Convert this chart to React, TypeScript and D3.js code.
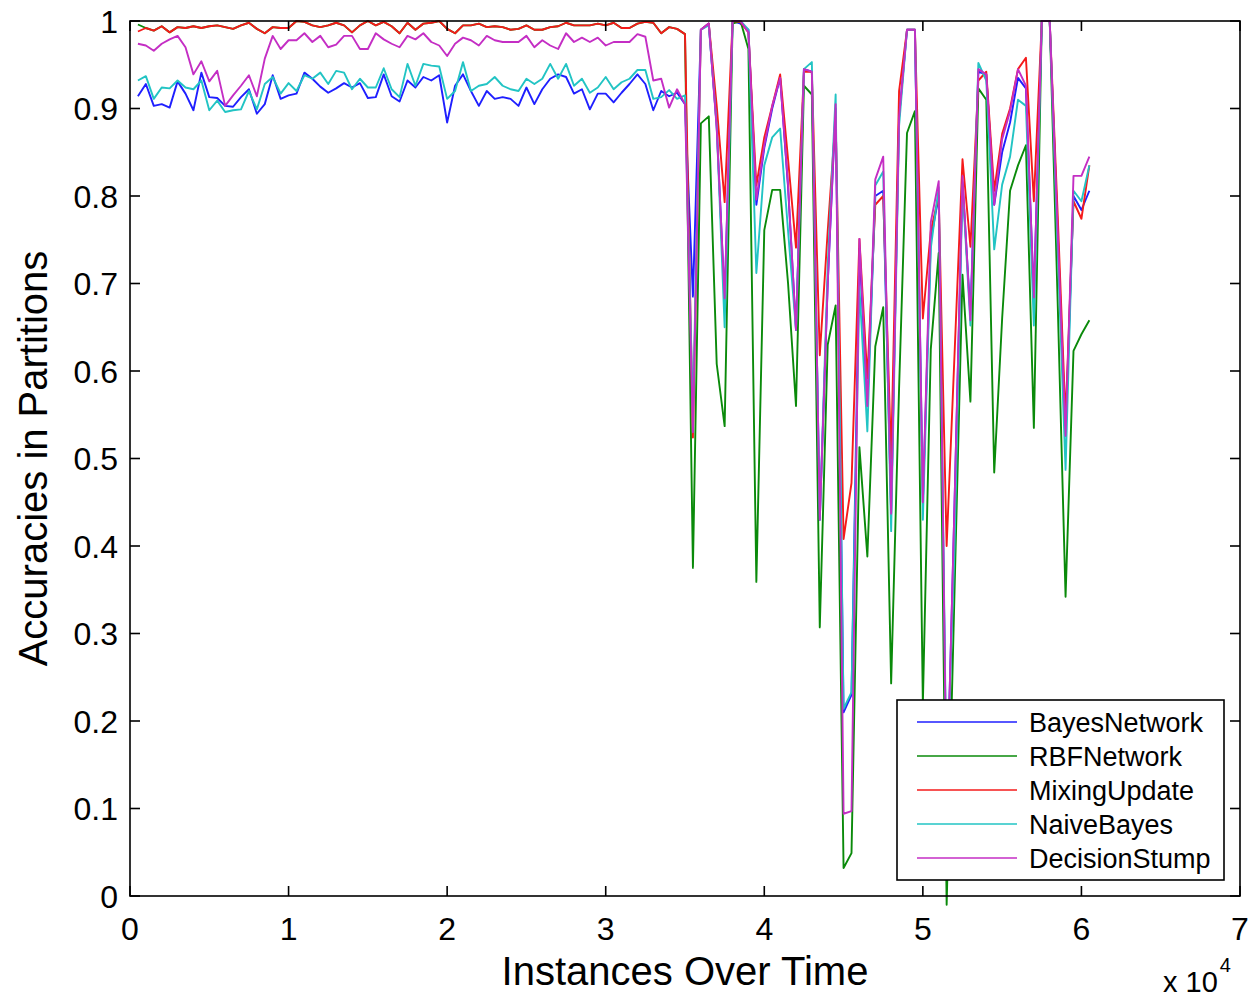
import React, { useEffect, useRef } from "react";
import * as d3 from "d3";

// instances per partition, one point per partition
const partitionSize = 500;

const bayesNetwork = [
  0.914, 0.928, 0.903, 0.905, 0.901, 0.931, 0.917, 0.898, 0.941, 0.913, 0.912, 0.903, 0.902, 0.913, 0.922, 0.894, 0.905, 0.938,
  0.911, 0.915, 0.917, 0.941, 0.934, 0.925, 0.918, 0.923, 0.929, 0.924, 0.929, 0.912, 0.913, 0.939, 0.914, 0.908, 0.932, 0.924,
  0.936, 0.932, 0.938, 0.884, 0.926, 0.939, 0.92, 0.903, 0.92, 0.911, 0.913, 0.911, 0.903, 0.924, 0.905, 0.922, 0.934,
  0.939, 0.936, 0.917, 0.922, 0.899, 0.917, 0.917, 0.907, 0.918, 0.928, 0.939, 0.928, 0.898, 0.92, 0.914, 0.918, 0.905,
  0.685, 0.99, 0.997, 0.88, 0.68, 1.0, 0.997, 0.99, 0.79, 0.855, 0.9, 0.935, 0.81, 0.647, 0.945, 0.942, 0.43,
  0.7, 0.9, 0.21, 0.23, 0.74, 0.56, 0.8, 0.806, 0.437, 0.89, 0.99, 0.99, 0.45, 0.75, 0.8, 0.1,
  0.45, 0.816, 0.665, 0.942, 0.939, 0.79, 0.85, 0.884, 0.935, 0.923, 0.684, 1.0, 1.0, 0.76, 0.526, 0.8, 0.784, 0.806,
];

const rbfNetwork = [
  0.996, 0.992, 0.989, 0.994, 0.987, 0.993, 0.992, 0.994, 0.992, 0.994, 0.995, 0.993, 0.991, 0.995, 0.998, 0.991, 0.986, 0.993,
  0.992, 0.992, 1.0, 0.999, 0.995, 0.993, 0.995, 0.998, 0.995, 0.987, 0.995, 1.0, 0.995, 0.999, 0.994, 0.986, 0.998, 0.99,
  0.997, 0.998, 1.0, 0.991, 0.986, 0.995, 0.995, 0.997, 0.993, 0.994, 0.993, 0.99, 0.991, 0.995, 0.99, 0.99, 0.993,
  0.994, 0.998, 0.995, 0.995, 0.995, 0.997, 0.995, 0.998, 0.992, 0.992, 0.997, 0.999, 0.998, 0.986, 0.993, 0.991, 0.985,
  0.375, 0.883, 0.891, 0.608, 0.537, 0.997, 1.0, 0.968, 0.359, 0.761, 0.807, 0.807, 0.7, 0.56, 0.926, 0.916, 0.307,
  0.63, 0.675, 0.032, 0.049, 0.513, 0.388, 0.628, 0.673, 0.243, 0.58, 0.872, 0.897, 0.22, 0.625, 0.735, -0.01,
  0.35, 0.71, 0.565, 0.923, 0.91, 0.484, 0.66, 0.806, 0.835, 0.858, 0.535, 1.0, 1.0, 0.68, 0.342, 0.623, 0.642, 0.658,
];

const mixingUpdate = [
  0.988, 0.992, 0.989, 0.994, 0.987, 0.993, 0.992, 0.994, 0.992, 0.994, 0.995, 0.993, 0.991, 0.995, 0.998, 0.991, 0.986, 0.993,
  0.992, 0.992, 1.0, 0.999, 0.995, 0.993, 0.995, 0.998, 0.995, 0.987, 0.995, 1.0, 0.995, 0.999, 0.994, 0.986, 0.998, 0.99,
  0.997, 0.998, 1.0, 0.991, 0.986, 0.995, 0.995, 0.997, 0.993, 0.994, 0.993, 0.99, 0.991, 0.995, 0.99, 0.99, 0.993,
  0.994, 0.998, 0.995, 0.995, 0.995, 0.997, 0.995, 0.998, 0.992, 0.992, 0.997, 0.999, 0.998, 0.986, 0.993, 0.991, 0.985,
  0.524, 0.99, 0.997, 0.903, 0.793, 1.0, 0.999, 0.987, 0.812, 0.867, 0.903, 0.939, 0.842, 0.741, 0.942, 0.942, 0.618,
  0.76, 0.89, 0.408, 0.472, 0.751, 0.592, 0.79, 0.8, 0.5, 0.92, 0.99, 0.99, 0.66, 0.76, 0.8, 0.4,
  0.62, 0.842, 0.742, 0.932, 0.942, 0.806, 0.871, 0.9, 0.945, 0.958, 0.794, 1.0, 1.0, 0.78, 0.545, 0.794, 0.774, 0.835,
];

const naiveBayes = [
  0.932, 0.937, 0.911, 0.924, 0.923, 0.932, 0.924, 0.922, 0.932, 0.898, 0.909, 0.896, 0.898, 0.899, 0.92, 0.899, 0.928, 0.936,
  0.917, 0.929, 0.92, 0.938, 0.934, 0.941, 0.928, 0.943, 0.941, 0.922, 0.934, 0.924, 0.924, 0.946, 0.922, 0.913, 0.951, 0.926,
  0.951, 0.949, 0.948, 0.911, 0.92, 0.953, 0.92, 0.926, 0.928, 0.936, 0.926, 0.922, 0.92, 0.934, 0.928, 0.934, 0.951,
  0.934, 0.951, 0.926, 0.934, 0.918, 0.924, 0.936, 0.922, 0.93, 0.934, 0.944, 0.944, 0.911, 0.913, 0.921, 0.911, 0.915,
  0.55, 0.99, 0.995, 0.88, 0.65, 1.0, 1.0, 0.99, 0.712, 0.835, 0.867, 0.877, 0.76, 0.647, 0.945, 0.953, 0.43,
  0.72, 0.916, 0.214, 0.233, 0.696, 0.531, 0.812, 0.828, 0.417, 0.88, 0.99, 0.99, 0.43, 0.74, 0.81, 0.12,
  0.4, 0.813, 0.652, 0.952, 0.932, 0.739, 0.813, 0.845, 0.91, 0.903, 0.652, 1.0, 1.0, 0.74, 0.487, 0.806, 0.794, 0.835,
];

const decisionStump = [
  0.974, 0.972, 0.966, 0.974, 0.979, 0.983, 0.97, 0.939, 0.954, 0.931, 0.943, 0.903, 0.915, 0.926, 0.938, 0.914, 0.957, 0.983,
  0.968, 0.978, 0.978, 0.986, 0.976, 0.983, 0.97, 0.973, 0.983, 0.983, 0.968, 0.968, 0.986, 0.979, 0.974, 0.97, 0.983, 0.979,
  0.986, 0.976, 0.972, 0.96, 0.974, 0.981, 0.978, 0.972, 0.983, 0.978, 0.976, 0.976, 0.976, 0.983, 0.97, 0.978, 0.972,
  0.968, 0.986, 0.976, 0.981, 0.976, 0.981, 0.972, 0.976, 0.976, 0.976, 0.985, 0.982, 0.932, 0.934, 0.901, 0.922, 0.905,
  0.53, 0.99, 0.997, 0.877, 0.683, 1.0, 1.0, 0.987, 0.796, 0.858, 0.903, 0.935, 0.812, 0.647, 0.945, 0.942, 0.43,
  0.7, 0.905, 0.094, 0.097, 0.751, 0.56, 0.819, 0.845, 0.437, 0.89, 0.99, 0.99, 0.45, 0.77, 0.817, 0.1,
  0.45, 0.823, 0.658, 0.945, 0.939, 0.79, 0.865, 0.897, 0.945, 0.926, 0.684, 1.0, 1.0, 0.76, 0.526, 0.823, 0.823, 0.845,
];

const seriesNames = ["BayesNetwork", "RBFNetwork", "MixingUpdate", "NaiveBayes", "DecisionStump"];
const seriesValues = [bayesNetwork, rbfNetwork, mixingUpdate, naiveBayes, decisionStump];
const seriesColors = ["#1f1fff", "#0a8a0a", "#f51a1a", "#22c4c4", "#c42ec4"];

const xTicks = [0, 10000, 20000, 30000, 40000, 50000, 60000, 70000];
const yTicks = [0, 0.1, 0.2, 0.3, 0.4, 0.5, 0.6, 0.7, 0.8, 0.9, 1];

const W = 1257;
const H = 1000;
const FONT = "'Liberation Sans', Arial, Helvetica, sans-serif";

export default function App() {
  const ref = useRef<SVGSVGElement>(null);

  useEffect(() => {
    const svg = d3.select(ref.current);
    svg.selectAll("*").remove();

    const left = 130, right = 1240, top = 21, bottom = 896;
    const x = d3.scaleLinear().domain([0, 70000]).range([left, right]);
    const y = d3.scaleLinear().domain([0, 1]).range([bottom, top]);
    const tickLen = 10;

    svg.append("rect").attr("width", W).attr("height", H).attr("fill", "#fff");

    // series lines (drawn in legend order, last on top)
    const line = d3
      .line<number>()
      .x((d, i) => x((i + 1) * partitionSize))
      .y((d) => y(d));

    const linesG = svg.append("g");
    seriesValues.forEach((vals, k) => {
      linesG
        .append("path")
        .datum(vals)
        .attr("d", line)
        .attr("fill", "none")
        .attr("stroke", seriesColors[k])
        .attr("stroke-width", 1.9)
        .attr("stroke-linejoin", "round");
    });

    // axes box + inward ticks on all four sides
    const axG = svg.append("g").attr("stroke", "#000").attr("stroke-width", 1.6);
    axG
      .append("rect")
      .attr("x", left)
      .attr("y", top)
      .attr("width", right - left)
      .attr("height", bottom - top)
      .attr("fill", "none");

    xTicks.forEach((t) => {
      axG.append("line").attr("x1", x(t)).attr("x2", x(t)).attr("y1", bottom).attr("y2", bottom - tickLen);
      axG.append("line").attr("x1", x(t)).attr("x2", x(t)).attr("y1", top).attr("y2", top + tickLen);
    });
    yTicks.forEach((t) => {
      axG.append("line").attr("x1", left).attr("x2", left + tickLen).attr("y1", y(t)).attr("y2", y(t));
      axG.append("line").attr("x1", right).attr("x2", right - tickLen).attr("y1", y(t)).attr("y2", y(t));
    });

    // tick labels
    const fmtY = d3.format("~g");
    svg
      .append("g")
      .selectAll("text")
      .data(yTicks)
      .enter()
      .append("text")
      .attr("x", left - 12)
      .attr("y", (d) => y(d))
      .attr("dy", "0.36em")
      .attr("text-anchor", "end")
      .attr("font-family", FONT)
      .attr("font-size", 32)
      .text((d) => fmtY(d));

    svg
      .append("g")
      .selectAll("text")
      .data(xTicks)
      .enter()
      .append("text")
      .attr("x", (d) => x(d))
      .attr("y", 940)
      .attr("text-anchor", "middle")
      .attr("font-family", FONT)
      .attr("font-size", 32)
      .text((d) => String(d / 10000));

    // axis titles
    svg
      .append("text")
      .attr("x", (left + right) / 2)
      .attr("y", 985)
      .attr("text-anchor", "middle")
      .attr("font-family", FONT)
      .attr("font-size", 40)
      .text("Instances Over Time");

    svg
      .append("text")
      .attr("transform", `translate(47, ${(top + bottom) / 2}) rotate(-90)`)
      .attr("text-anchor", "middle")
      .attr("font-family", FONT)
      .attr("font-size", 40)
      .text("Accuracies in Partitions");

    const mult = svg.append("text").attr("x", 1163).attr("y", 992).attr("font-family", FONT).attr("font-size", 29);
    mult.append("tspan").text("x 10");
    mult.append("tspan").attr("dx", 2).attr("dy", -20).attr("font-size", 20).text("4");

    // legend
    const lg = svg.append("g");
    lg.append("rect")
      .attr("x", 897)
      .attr("y", 700)
      .attr("width", 327)
      .attr("height", 180)
      .attr("fill", "#fff")
      .attr("stroke", "#000")
      .attr("stroke-width", 1.6);
    const rowY = d3.scaleLinear().domain([0, 4]).range([722, 858]);
    seriesNames.forEach((name, k) => {
      lg.append("line")
        .attr("x1", 917)
        .attr("x2", 1017)
        .attr("y1", rowY(k))
        .attr("y2", rowY(k))
        .attr("stroke", seriesColors[k])
        .attr("stroke-width", 1.6);
      lg.append("text")
        .attr("x", 1029)
        .attr("y", rowY(k))
        .attr("dy", "0.36em")
        .attr("font-family", FONT)
        .attr("font-size", 27)
        .text(name);
    });
  }, []);

  return (
    <div style={{ position: "absolute", left: 0, top: 0 }}>
      <svg ref={ref} width={W} height={H} style={{ display: "block" }} />
    </div>
  );
}
